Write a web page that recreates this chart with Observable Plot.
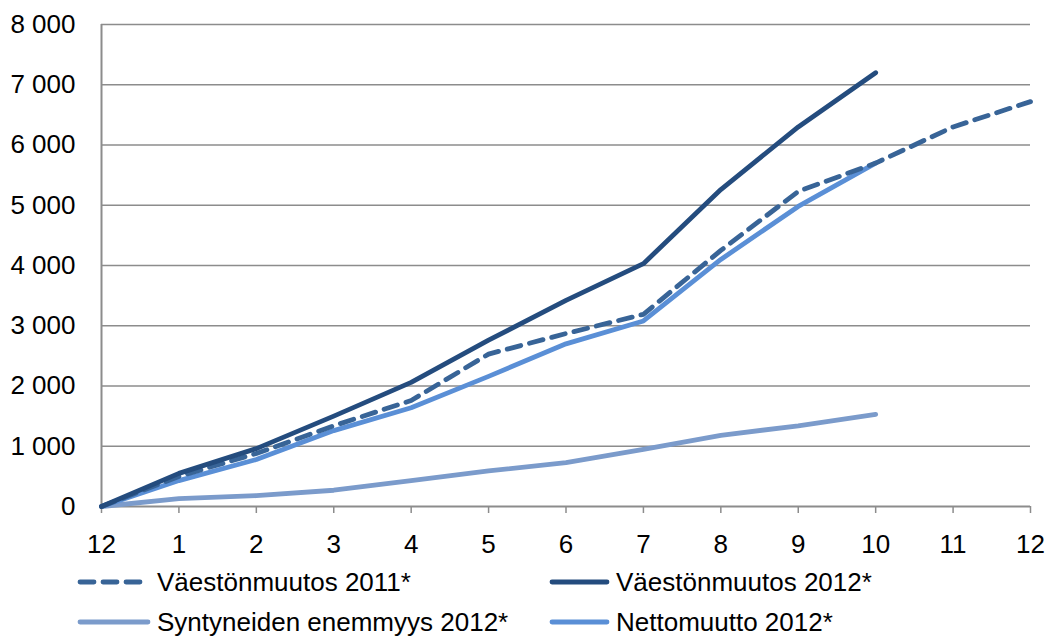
<!DOCTYPE html>
<html>
<head>
<meta charset="utf-8">
<script src="https://cdn.jsdelivr.net/npm/d3@7"></script>
<script src="https://cdn.jsdelivr.net/npm/@observablehq/plot@0.6"></script>
<style>
  body { margin: 0; background: #fff; font-family: "Liberation Sans", Arial, sans-serif; }
  #wrap { position: relative; width: 1045px; height: 637px; }
  #wrap > svg text { font-size: 26px !important; fill: #000; }
  .leg { position: absolute; display: flex; align-items: center; font-size: 26px; color: #000; white-space: nowrap; }
  .leg svg { margin-right: 5px; }
</style>
</head>
<body>
<div id="wrap"></div>
<script>
const months = ["12","1","2","3","4","5","6","7","8","9","10","11","12"];
const vm2011 = [0, 500, 880, 1340, 1760, 2530, 2870, 3190, 4250, 5230, 5700, 6300, 6720];
const vm2012 = [0, 550, 960, 1500, 2060, 2760, 3420, 4030, 5260, 6300, 7200];
const synty2012 = [0, 130, 180, 270, 430, 590, 730, 950, 1180, 1340, 1530];
const netto2012 = [0, 430, 780, 1260, 1640, 2160, 2700, 3080, 4100, 4980, 5700];
const seriesNames = ["Väestönmuutos 2011*", "Väestönmuutos 2012*", "Syntyneiden enemmyys 2012*", "Nettomuutto 2012*"];
const colors = ["#386497", "#244C7E", "#7B9BCB", "#5A8FD6"];

const toRows = arr => arr.map((v, i) => ({i, v}));

const fmt = d => d3.format(",")(d).replace(/,/g, "\u00a0");

const chart = Plot.plot({
  width: 1045,
  height: 560,
  marginTop: 24,
  marginLeft: 101,
  marginRight: 15,
  marginBottom: 54,
  style: {fontFamily: "'Liberation Sans', Arial, sans-serif", fontSize: "26px", color: "#000", background: "#fff"},
  x: {domain: [0, 12]},
  y: {domain: [0, 8000]},
  marks: [
    Plot.ruleY(d3.range(1000, 8001, 1000), {stroke: "#8c8c8c", strokeWidth: 1.5}),
    Plot.axisY({ticks: d3.range(0, 8001, 1000), tickFormat: fmt, tickSize: 0, tickPadding: 26, label: null}),
    Plot.axisX({ticks: d3.range(0, 13), tickFormat: i => months[i], tickSize: 7, tickPadding: 21, stroke: "#8c8c8c", strokeWidth: 1.5, label: null}),
    Plot.ruleX([0], {stroke: "#8c8c8c", strokeWidth: 2}),
    Plot.ruleY([0], {stroke: "#8c8c8c", strokeWidth: 2}),
    Plot.line(toRows(synty2012), {x: "i", y: "v", stroke: colors[2], strokeWidth: 4.8, strokeLinecap: "round"}),
    Plot.line(toRows(netto2012), {x: "i", y: "v", stroke: colors[3], strokeWidth: 4.8, strokeLinecap: "round"}),
    Plot.line(toRows(vm2011), {x: "i", y: "v", stroke: colors[0], strokeWidth: 4.8, strokeDasharray: "14,9", strokeLinecap: "round"}),
    Plot.line(toRows(vm2012), {x: "i", y: "v", stroke: colors[1], strokeWidth: 4.8, strokeLinecap: "round"})
  ]
});
const wrap = document.getElementById("wrap");
wrap.appendChild(chart);

const legendPos = [
  {left: 76, top: 566},
  {left: 548, top: 566},
  {left: 76, top: 606},
  {left: 548, top: 606}
];
seriesNames.forEach((name, k) => {
  const d = document.createElement("div");
  d.className = "leg";
  d.style.left = legendPos[k].left + "px";
  d.style.top = legendPos[k].top + "px";
  d.style.height = "32px";
  const w = k % 2 === 0 ? 76 : 63;
  const dash = k === 0 ? 'stroke-dasharray="14,9"' : '';
  d.innerHTML = `<svg width="${w}" height="12"><line x1="4" y1="6" x2="${w - 4}" y2="6" stroke="${colors[k]}" stroke-width="4.8" stroke-linecap="round" ${dash}/></svg><span>${name}</span>`;
  wrap.appendChild(d);
});
</script>
</body>
</html>
